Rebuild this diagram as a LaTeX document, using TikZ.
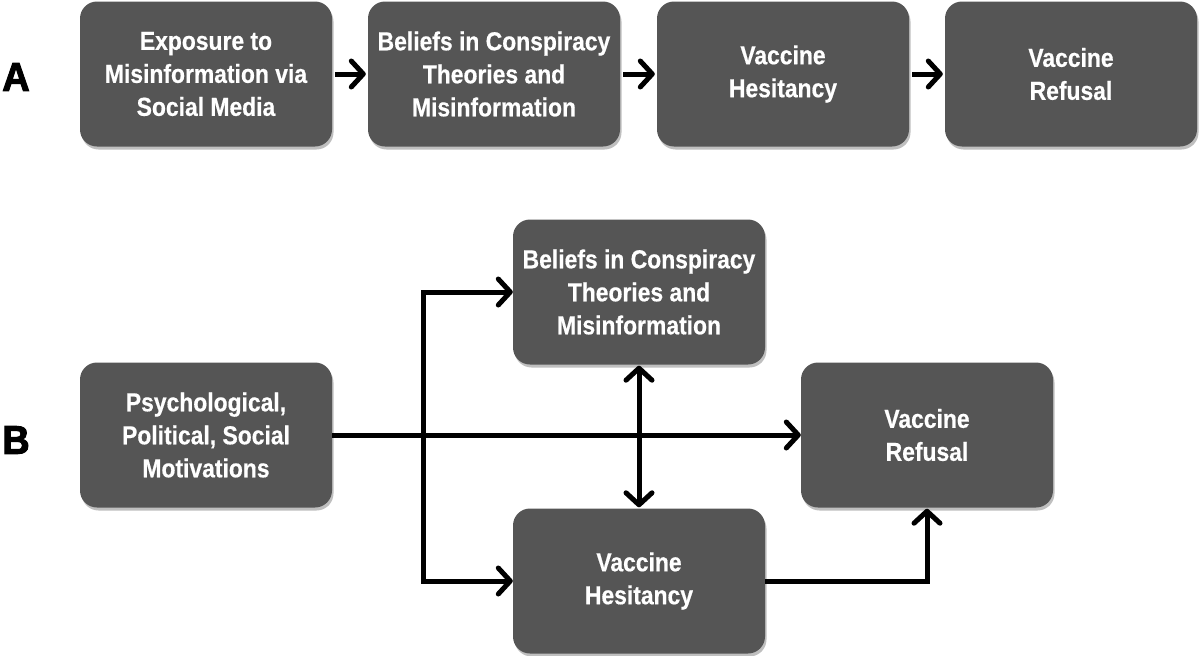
\documentclass[tikz,border=0pt]{standalone}
\usepackage{fontspec}
\setmainfont{Liberation Sans}[FakeStretch=0.88,FakeBold=0.5]
\newfontfamily\labfont{Liberation Sans}[FakeStretch=0.95,FakeBold=2.5]
\usetikzlibrary{arrows.meta,shadows}
\definecolor{boxgray}{HTML}{555555}
\tikzset{
  box/.style={rectangle, rounded corners=17pt, fill=boxgray, text=white,
    minimum width=252pt, minimum height=145pt, inner sep=0pt,
    align=center, font=\fontsize{26}{33}\selectfont\bfseries,
    drop shadow={shadow xshift=1.5pt, shadow yshift=-3pt, opacity=0.25, fill=black}},
  panel/.style={font=\labfont\fontsize{40}{40}\selectfont\bfseries, text=black, inner sep=0pt},
  tip/.tip={Straight Barb[round,length=12pt,width=26pt]},
  arr/.style={draw=black, line width=5pt, -tip},
  darr/.style={draw=black, line width=5pt, tip-tip},
}
\begin{document}
\begin{tikzpicture}[x=1pt,y=-1pt]
\useasboundingbox (0,0) rectangle (1200,656);
% panel A
\node[panel] (la) at (16,77) {A};
\node[box] (a1) at (206,74) {Exposure to\\Misinformation via\\Social Media};
\node[box] (a2) at (494,74) {Beliefs in Conspiracy\\Theories and\\Misinformation};
\node[box] (a3) at (783,74) {Vaccine\\Hesitancy};
\node[box] (a4) at (1071,74) {Vaccine\\Refusal};
\draw[arr, shorten <=3pt, shorten >=2pt] (a1) -- (a2);
\draw[arr, shorten <=3pt, shorten >=2pt] (a2) -- (a3);
\draw[arr, shorten <=3pt, shorten >=2pt] (a3) -- (a4);
% panel B
\node[panel] (lb) at (16,440) {B};
\node[box] (psy) at (206,435) {Psychological,\\Political, Social\\Motivations};
\node[box] (bel) at (639,292) {Beliefs in Conspiracy\\Theories and\\Misinformation};
\node[box] (ref) at (927,435) {Vaccine\\Refusal};
\node[box] (hes) at (639,581) {Vaccine\\Hesitancy};
\coordinate (jt) at (423,292);
\coordinate (jb) at (423,581);
\draw[arr] (psy.east) -- (ref.west);
\draw[darr] (bel.west) -- (jt) -- (jb) -- (hes.west);
\draw[darr, shorten <=1pt, shorten >=1pt] (bel.south) -- (hes.north);
\draw[arr, shorten >=1pt] (hes.east) -| (ref.south);
\end{tikzpicture}
\end{document}
